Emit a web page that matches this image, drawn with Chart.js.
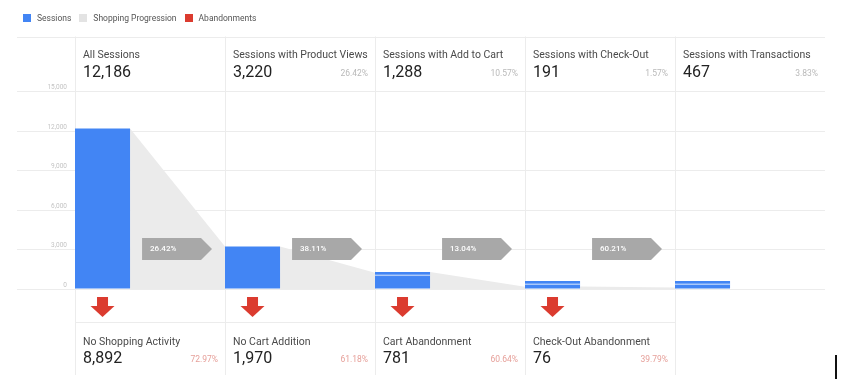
<!DOCTYPE html>
<html>
<head>
<meta charset="utf-8">
<script src="https://cdn.jsdelivr.net/npm/chart.js@4.4.1/dist/chart.umd.min.js"></script>
<style>
  body { margin: 0; background: #fff; font-family: Roboto, 'Noto Sans', sans-serif; }
  #wrap { position: relative; width: 850px; height: 386px; overflow: hidden; }
  #funnel { position: absolute; left: 0; top: 0; }
  .legend { position: absolute; left: 23px; top: 13px; display: flex; align-items: center; font-size: 8.5px; color: #555; line-height: 10px; }
  .legend .sw { width: 8px; height: 8px; margin-right: 6px; }
  .legend .lbl { margin-right: 8px; }
  .cell { position: absolute; width: 150px; height: 56px; }
  .cell div { position: absolute; white-space: nowrap; line-height: 1; transform: translateY(-50%); }
  .cell .name { left: 8px; font-size: 10.5px; color: #4a4a4a; }
  .cell .val { left: 8px; font-size: 16px; color: #222; }
  .cell .pct { right: 7px; font-size: 8.5px; color: #b9b9b9; }
  .cell.drop .pct { color: #e6a09a; }
  #cursor { position: absolute; left: 835px; top: 355px; width: 2px; height: 24px; background: #111; }
</style>
</head>
<body>
<div id="wrap">
  <canvas id="funnel" width="850" height="386"></canvas>
  <div class="legend">
    <span class="sw" style="background:#4285f4"></span><span class="lbl">Sessions</span>
    <span class="sw" style="background:#e3e3e3"></span><span class="lbl">Shopping Progression</span>
    <span class="sw" style="background:#db3b2f"></span><span class="lbl">Abandonments</span>
  </div>
  <div id="cursor"></div>
</div>
<script>
// funnel stages
const stages = ['All Sessions', 'Sessions with Product Views', 'Sessions with Add to Cart', 'Sessions with Check-Out', 'Sessions with Transactions'];
const sessions = [12186, 3220, 1288, 191, 467];
const stageShare = [null, 26.42, 10.57, 1.57, 3.83];
const progressionRates = [26.42, 38.11, 13.04, 60.21];

// abandonments below each stage
const abandonStages = ['No Shopping Activity', 'No Cart Addition', 'Cart Abandonment', 'Check-Out Abandonment'];
const abandonments = [8892, 1970, 781, 76];
const abandonRates = [72.97, 61.18, 60.64, 39.79];

const yTicks = [0, 3000, 6000, 9000, 12000, 15000];

const BLUE = '#4285f4';
const PROG_GREY = '#ebebeb';
const ARROW_GREY = '#a8a8a8';
const RED = '#db3b2f';
const LINE = '#ececec';

function colLeft(chart, i) {
  const xs = chart.scales.x;
  return xs.left + i * xs.width / stages.length;
}

const funnelPlugin = {
  id: 'funnel',
  afterDatasetsUpdate(chart) {
    // bars sit at the left edge of their column
    chart.getDatasetMeta(0).data.forEach((bar, i) => {
      bar.x = colLeft(chart, i) + bar.width / 2;
    });
  },
  beforeDatasetsDraw(chart) {
    const ctx = chart.ctx;
    const area = chart.chartArea;
    const ys = chart.scales.y;
    const base = ys.getPixelForValue(0);
    const bars = chart.getDatasetMeta(0).data;
    const headTop = area.top - 55;
    const bottom = base + 86;

    ctx.save();
    ctx.strokeStyle = LINE;
    ctx.lineWidth = 1;
    ctx.beginPath();
    ctx.moveTo(ys.left, Math.round(headTop) + 0.5);
    ctx.lineTo(area.right, Math.round(headTop) + 0.5);
    for (let i = 0; i < stages.length; i++) {
      const x = Math.round(colLeft(chart, i)) + 0.5;
      ctx.moveTo(x, headTop);
      ctx.lineTo(x, bottom);
    }
    const yb = Math.round(base + 33) + 0.5;
    ctx.moveTo(colLeft(chart, 0), yb);
    ctx.lineTo(colLeft(chart, abandonments.length), yb);
    ctx.stroke();

    // shopping progression bands: stage sessions -> sessions that progressed
    ctx.fillStyle = PROG_GREY;
    for (let i = 0; i < bars.length - 1; i++) {
      const a = bars[i], b = bars[i + 1];
      const y0 = ys.getPixelForValue(sessions[i]);
      const y1 = ys.getPixelForValue(sessions[i] * progressionRates[i] / 100);
      ctx.beginPath();
      ctx.moveTo(a.x + a.width / 2, y0);
      ctx.lineTo(b.x - b.width / 2, y1);
      ctx.lineTo(b.x - b.width / 2, base);
      ctx.lineTo(a.x + a.width / 2, base);
      ctx.closePath();
      ctx.fill();
    }
    ctx.restore();
  },
  afterDatasetsDraw(chart) {
    const ctx = chart.ctx;
    const base = chart.scales.y.getPixelForValue(0);
    const bars = chart.getDatasetMeta(0).data;
    ctx.save();

    // light stripe on the short bars
    ctx.fillStyle = 'rgba(255,255,255,0.55)';
    bars.forEach(bar => {
      if (base - bar.y < 30) ctx.fillRect(bar.x - bar.width / 2, bar.y + 2.5, bar.width, 1.5);
    });

    // progression rate tags
    progressionRates.forEach((r, i) => {
      const a = bars[i];
      const x0 = a.x + a.width / 2 + 12;
      const tip = colLeft(chart, i + 1) - 13;
      const cy = base - 40;
      ctx.fillStyle = ARROW_GREY;
      ctx.beginPath();
      ctx.moveTo(x0, cy - 11);
      ctx.lineTo(tip - 11, cy - 11);
      ctx.lineTo(tip, cy);
      ctx.lineTo(tip - 11, cy + 11);
      ctx.lineTo(x0, cy + 11);
      ctx.closePath();
      ctx.fill();
      ctx.fillStyle = '#fff';
      ctx.font = '500 8px Roboto';
      ctx.textBaseline = 'middle';
      ctx.fillText(r.toFixed(2) + '%', x0 + 8, cy);
    });

    // abandonment arrows
    ctx.fillStyle = RED;
    abandonments.forEach((v, i) => {
      const cx = bars[i].x;
      const top = base + 8;
      ctx.fillRect(cx - 5.5, top, 11, 9);
      ctx.beginPath();
      ctx.moveTo(cx - 12, top + 9);
      ctx.lineTo(cx + 12, top + 9);
      ctx.lineTo(cx, top + 20);
      ctx.closePath();
      ctx.fill();
    });
    ctx.restore();
  }
};

const chart = new Chart(document.getElementById('funnel'), {
  type: 'bar',
  data: {
    labels: stages,
    datasets: [{
      label: 'Sessions',
      data: sessions,
      backgroundColor: BLUE,
      categoryPercentage: 1,
      barPercentage: 0.367,
      minBarLength: 8
    }]
  },
  options: {
    responsive: false,
    animation: false,
    events: [],
    layout: { padding: { left: 17, right: 25, top: 91.5, bottom: 97 } },
    plugins: { legend: { display: false }, tooltip: { enabled: false } },
    scales: {
      x: { display: false },
      y: {
        min: 0,
        max: 15000,
        afterBuildTicks: s => { s.ticks = yTicks.map(v => ({ value: v })); },
        afterFit: s => { s.width = 58; },
        border: { display: false },
        grid: { color: LINE, tickLength: 58 },
        ticks: {
          padding: -50,
          labelOffset: -4,
          color: '#c4c4c4',
          font: { size: 6.5, family: 'Roboto' },
          callback: v => v.toLocaleString('en-US')
        }
      }
    }
  },
  plugins: [funnelPlugin]
});

// header and abandonment cells
function addCell(i, top, name, value, pct, cls) {
  const el = document.createElement('div');
  el.className = 'cell ' + cls;
  el.style.left = colLeft(chart, i) + 'px';
  el.style.top = top + 'px';
  el.innerHTML = '<div class="name" style="top:' + (cls === 'drop' ? 19.7 : 18.5) + 'px">' + name + '</div>' +
    '<div class="val" style="top:' + (cls === 'drop' ? 36.3 : 35) + 'px">' + value.toLocaleString('en-US') + '</div>' +
    (pct == null ? '' : '<div class="pct" style="top:' + (cls === 'drop' ? 36.8 : 36.5) + 'px">' + pct.toFixed(2) + '%</div>');
  document.getElementById('wrap').appendChild(el);
}

const base = chart.scales.y.getPixelForValue(0);
stages.forEach((s, i) => addCell(i, chart.chartArea.top - 55, s, sessions[i], stageShare[i], 'head'));
abandonStages.forEach((s, i) => addCell(i, base + 33, s, abandonments[i], abandonRates[i], 'drop'));
</script>
</body>
</html>
